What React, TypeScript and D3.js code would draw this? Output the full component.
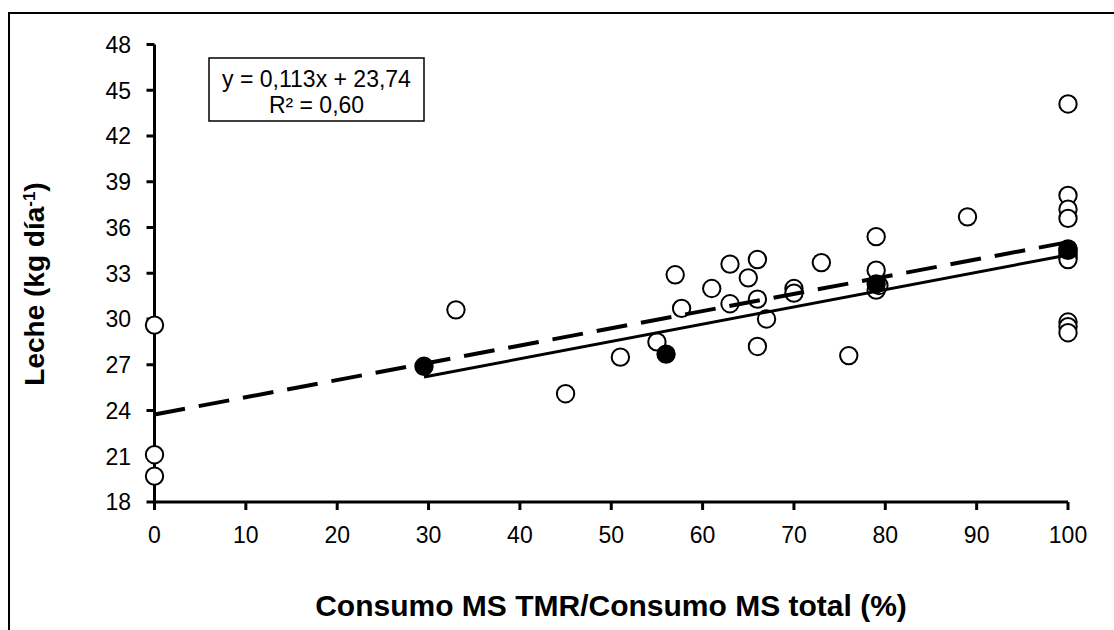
import * as d3 from 'd3'

const width = 1114
const height = 630

// open circles
const openX = [0, 0, 0, 33, 45, 51, 55, 57, 57.7, 61, 63, 63, 65, 66, 66, 66, 67, 70, 70, 73, 76, 79, 79, 79, 79.3, 89, 100, 100, 100, 100, 100, 100, 100, 100, 100, 100, 100]
const openY = [29.6, 21.1, 19.7, 30.6, 25.1, 27.5, 28.5, 32.9, 30.7, 32.0, 33.6, 31.0, 32.7, 33.9, 31.3, 28.2, 30.0, 32.0, 31.7, 33.7, 27.6, 35.4, 33.2, 31.9, 32.2, 36.7, 44.1, 38.1, 37.2, 36.6, 34.6, 34.3, 34.1, 33.9, 29.8, 29.5, 29.1]

// filled circles
const filledX = [29.5, 56, 79, 100]
const filledY = [26.9, 27.7, 32.3, 34.5]

const xTicks = [0, 10, 20, 30, 40, 50, 60, 70, 80, 90, 100]
const yTicks = [18, 21, 24, 27, 30, 33, 36, 39, 42, 45, 48]

// trend lines
const dashSlope = 0.113
const dashIntercept = 23.74
const dashRange = [0, 100]
const solidSlope = 0.1135
const solidIntercept = 22.85
const solidRange = [29.5, 100]

const eqLine1 = 'y = 0,113x + 23,74'
const eqLine2 = 'R² = 0,60'

const font = "'Liberation Sans', Arial, sans-serif"

export default function App() {
  const xScale = d3.scaleLinear().domain([0, 100]).range([154.5, 1068])
  const yScale = d3.scaleLinear().domain([18, 48]).range([502, 44.5])

  const dashPath = d3.line<number>()
    .x(d => xScale(d))
    .y(d => yScale(dashSlope * d + dashIntercept))(dashRange)
  const solidPath = d3.line<number>()
    .x(d => xScale(d))
    .y(d => yScale(solidSlope * d + solidIntercept))(solidRange)

  const x0 = xScale(0)
  const y0 = yScale(18)

  return (
    <svg width={width} height={height} style={{ position: 'absolute', left: 0, top: 0, background: '#fff' }} fontFamily={font}>
      <rect x={9} y={13} width={1200} height={700} fill="white" stroke="black" strokeWidth={2} />

      {/* y axis */}
      <line x1={x0} x2={x0} y1={y0} y2={yScale(48)} stroke="black" strokeWidth={3} />
      {yTicks.map(t => (
        <g key={t} transform={`translate(0, ${yScale(t)})`}>
          <line x1={x0 - 8} x2={x0} stroke="black" strokeWidth={3} />
          <text x={131} dy="0.36em" textAnchor="end" fontSize={23}>{t}</text>
        </g>
      ))}

      {/* x axis */}
      <line x1={x0} x2={xScale(100)} y1={y0} y2={y0} stroke="black" strokeWidth={3} />
      {xTicks.map(t => (
        <g key={t} transform={`translate(${xScale(t)}, 0)`}>
          <line y1={y0} y2={y0 + 8} stroke="black" strokeWidth={3} />
          <text y={543} textAnchor="middle" fontSize={23}>{t}</text>
        </g>
      ))}

      <text x={611} y={616} textAnchor="middle" fontSize={30} fontWeight="bold">
        Consumo MS TMR/Consumo MS total (%)
      </text>
      <text transform={`translate(44, 284) rotate(-90)`} textAnchor="middle" fontSize={28} fontWeight="bold">
        Leche (kg día<tspan baselineShift="super" fontSize={17}>-1</tspan>)
      </text>

      {/* points */}
      {openX.map((x, i) => (
        <circle key={'o' + i} cx={xScale(x)} cy={yScale(openY[i])} r={8.7} fill="white" stroke="black" strokeWidth={2} />
      ))}
      {filledX.map((x, i) => (
        <circle key={'f' + i} cx={xScale(x)} cy={yScale(filledY[i])} r={8.7} fill="black" stroke="black" strokeWidth={2} />
      ))}

      {/* trend lines */}
      <path d={dashPath || ''} fill="none" stroke="black" strokeWidth={4} strokeDasharray="31 14" />
      <path d={solidPath || ''} fill="none" stroke="black" strokeWidth={3} />

      {/* equation box */}
      <rect x={209} y={58} width={215} height={63} fill="white" stroke="black" strokeWidth={1.5} />
      <text x={316.5} y={87} textAnchor="middle" fontSize={23}>{eqLine1}</text>
      <text x={316.5} y={113} textAnchor="middle" fontSize={23}>{eqLine2}</text>
    </svg>
  )
}
